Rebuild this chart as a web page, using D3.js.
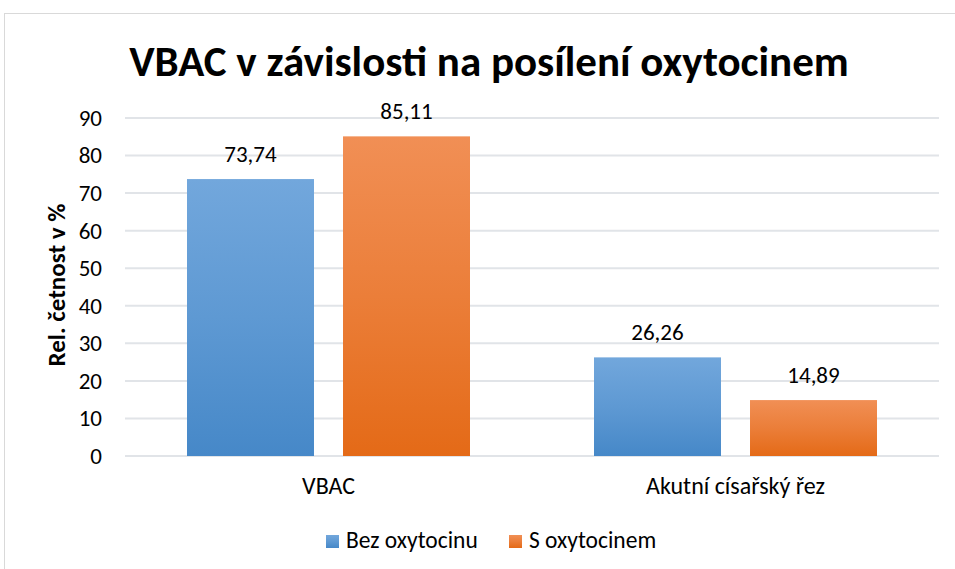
<!DOCTYPE html>
<html>
<head>
<meta charset="utf-8">
<script src="https://cdn.jsdelivr.net/npm/d3@7"></script>
<style>
  body { margin: 0; background: #fff; }
  svg { display: block; }
</style>
</head>
<body>
<div id="chart"></div>
<script>
const categories = ["VBAC", "Akutní císařský řez"];
const seriesNames = ["Bez oxytocinu", "S oxytocinem"];
const bezOxytocinu = [73.74, 26.26];
const sOxytocinem = [85.11, 14.89];
const yTicks = [0, 10, 20, 30, 40, 50, 60, 70, 80, 90];

const W = 955, H = 569;
const font = "Carlito, Calibri, Lato, sans-serif";

const margin = {top: 118, right: 16, bottom: 113, left: 125};
const width = W - margin.left - margin.right,
      height = H - margin.top - margin.bottom;

const svg = d3.select("#chart").append("svg")
    .attr("width", W).attr("height", H);

// gradients for the bars
const defs = svg.append("defs");
const grads = [["gBlue", "#72a7dc", "#4688c8"], ["gOrange", "#f18f55", "#e46a17"]];
grads.forEach(function (g) {
    const lg = defs.append("linearGradient").attr("id", g[0])
        .attr("x1", 0).attr("y1", 0).attr("x2", 0).attr("y2", 1);
    lg.append("stop").attr("offset", "0%").attr("stop-color", g[1]);
    lg.append("stop").attr("offset", "50%").attr("stop-color", d3.interpolateRgb(g[1], g[2])(0.45));
    lg.append("stop").attr("offset", "100%").attr("stop-color", g[2]);
});

// chart area border
svg.append("rect").attr("x", 4.5).attr("y", 13.5).attr("width", W + 10).attr("height", H + 10)
    .attr("fill", "none").attr("stroke", "#d9d9d9").attr("stroke-width", 1);

const g = svg.append("g").attr("transform", `translate(${margin.left},${margin.top})`);

const x0 = d3.scaleBand().domain(categories).range([0, width]).paddingInner(0).paddingOuter(0);
const x1 = d3.scaleBand().domain(seriesNames).range([62, x0.bandwidth() - 62]).paddingInner(0.186);
const y = d3.scaleLinear().domain([0, 90]).range([height, 0]);

// gridlines
g.append("g").selectAll("line").data(yTicks).join("line")
    .attr("x1", 0).attr("x2", width)
    .attr("y1", d => y(d)).attr("y2", d => y(d))
    .attr("stroke", "#e1e4e8").attr("stroke-width", 2);

// y axis labels
const yAxis = g.append("g").call(d3.axisLeft(y).tickValues(yTicks).tickSize(0).tickPadding(23));
yAxis.select(".domain").remove();
yAxis.selectAll("text").style("font-family", font).style("font-size", "23px").attr("fill", "#000");

// x axis labels
const xAxis = g.append("g").attr("transform", `translate(0,${height})`)
    .call(d3.axisBottom(x0).tickSize(0).tickPadding(21));
xAxis.select(".domain").remove();
xAxis.selectAll("text").style("font-family", font).style("font-size", "24px").attr("fill", "#000");

const data = categories.map((c, i) => ({cat: c, values: [bezOxytocinu[i], sOxytocinem[i]]}));

const groups = g.selectAll(".grp").data(data).join("g")
    .attr("transform", d => `translate(${x0(d.cat)},0)`);

groups.selectAll("rect").data(d => d.values.map((v, j) => ({s: seriesNames[j], v: v, j: j}))).join("rect")
    .attr("x", d => x1(d.s)).attr("width", x1.bandwidth())
    .attr("y", d => y(d.v)).attr("height", d => height - y(d.v))
    .attr("fill", d => d.j === 0 ? "url(#gBlue)" : "url(#gOrange)");

groups.selectAll("text.val").data(d => d.values.map((v, j) => ({s: seriesNames[j], v: v}))).join("text")
    .attr("class", "val")
    .attr("x", d => x1(d.s) + x1.bandwidth() / 2)
    .attr("y", d => y(d.v) - 17)
    .attr("text-anchor", "middle")
    .style("font-family", font).style("font-size", "23px").attr("fill", "#000")
    .text(d => d.v.toFixed(2).replace(".", ","));

// title
svg.append("text").attr("x", 489).attr("y", 76).attr("text-anchor", "middle")
    .style("font-family", font).style("font-weight", "bold").style("font-size", "43px")
    .attr("fill", "#000").text("VBAC v závislosti na posílení oxytocinem");

// y axis title
svg.append("text").attr("transform", `translate(65,${margin.top + height / 2 - 2}) rotate(-90)`)
    .attr("text-anchor", "middle")
    .style("font-family", font).style("font-weight", "bold").style("font-size", "25px")
    .attr("fill", "#000").text("Rel. četnost v %");

// legend
const legendX = [326, 509];
const leg = svg.append("g").selectAll("g").data(seriesNames).join("g")
    .attr("transform", (d, i) => `translate(${legendX[i]},535)`);
leg.append("rect").attr("width", 13).attr("height", 13)
    .attr("fill", (d, i) => i === 0 ? "url(#gBlue)" : "url(#gOrange)");
leg.append("text").attr("x", 20).attr("y", 13)
    .style("font-family", font).style("font-size", "23.5px").attr("fill", "#000")
    .text(d => d);
</script>
</body>
</html>
